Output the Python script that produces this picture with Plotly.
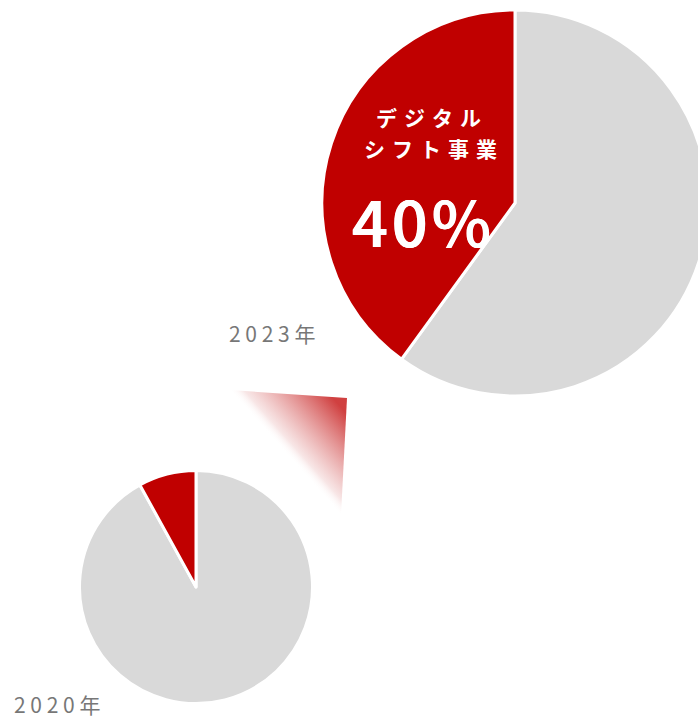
import base64

import plotly.graph_objects as go

# データ (時計回りに描くので「その他」を先に置く)
YEARS = ["2023年", "2020年"]
SEGMENTS = ["その他", "デジタルシフト事業"]
SHARE_2023 = [60, 40]
SHARE_2020 = [92, 8]
HEADLINE = "40%"

RED = "#c00000"
GRAY = "#d9d9d9"
FONT = "Noto Sans CJK JP"

W, H = 720, 718  # 横は画面(698px)より少し広くして右端をはみ出させる


def px_x(v):
    return v / W


def px_y(v):
    return 1 - v / H


def spaced(s, sep="\u2004"):
    return sep.join(s)


def pie_domain(cx, cy, r):
    return dict(x=[px_x(cx - r), px_x(cx + r)], y=[px_y(cy + r), px_y(cy - r)])


fig = go.Figure()
for share, (cx, cy, r) in [(SHARE_2023, (515, 203, 193)), (SHARE_2020, (196, 587, 116.5))]:
    fig.add_trace(
        go.Pie(
            labels=SEGMENTS,
            values=share,
            sort=False,
            direction="clockwise",
            marker=dict(colors=[GRAY, RED], line=dict(color="white", width=3)),
            textinfo="none",
            hoverinfo="label+percent",
            showlegend=False,
            domain=pie_domain(cx, cy, r),
        )
    )

# 2020 -> 2023 をつなぐグラデーションの三角形 (SVG 画像で描く)
svg = (
    '<svg xmlns="http://www.w3.org/2000/svg" width="124" height="132" viewBox="0 0 124 132">'
    '<defs><linearGradient id="g" gradientUnits="userSpaceOnUse" x1="58" y1="66" x2="112" y2="18">'
    '<stop offset="0" stop-color="#ffffff" stop-opacity="0"/>'
    '<stop offset="0.15" stop-color="#f3d6d6" stop-opacity="0.6"/>'
    '<stop offset="1" stop-color="#c00000" stop-opacity="0.75"/>'
    "</linearGradient></defs>"
    '<polygon points="2,2 119,10 113,127" fill="url(#g)"/></svg>'
)
src = "data:image/svg+xml;base64," + base64.b64encode(svg.encode()).decode()
fig.add_layout_image(
    source=src,
    xref="paper", yref="paper",
    x=px_x(228), y=px_y(388),
    sizex=124 / W, sizey=132 / H,
    xanchor="left", yanchor="top",
    sizing="stretch",
    layer="above",
)

# 40% は少し太く見せるため白い影を重ねる
thick = "0.5px 0 0 white, -0.5px 0 0 white"

annotations = [
    dict(text=spaced(YEARS[0], " "), x=px_x(272), y=px_y(333), font=dict(size=21, color="#777777")),
    dict(text=spaced(YEARS[1], " "), x=px_x(57), y=px_y(704), font=dict(size=21, color="#777777")),
    dict(text=spaced("デジタル"), x=px_x(428), y=px_y(117), font=dict(size=21, color="white", weight="bold")),
    dict(text=spaced("シフト事業"), x=px_x(430), y=px_y(148), font=dict(size=21, color="white", weight="bold")),
    dict(text=spaced(HEADLINE, "\u200a"), x=px_x(421), y=px_y(219),
         font=dict(size=63, color="white", weight=500, shadow=thick)),
]
for a in annotations:
    a["font"]["family"] = FONT
    fig.add_annotation(xref="paper", yref="paper", showarrow=False, xanchor="center", yanchor="middle", **a)

fig.update_layout(
    width=W,
    height=H,
    margin=dict(l=0, r=0, t=0, b=0),
    paper_bgcolor="white",
    plot_bgcolor="white",
    font=dict(family=FONT),
)

fig.write_html(
    "out.html",
    config={"displayModeBar": False},
    post_script="document.body.style.margin='0';document.body.style.overflow='hidden';",
)
